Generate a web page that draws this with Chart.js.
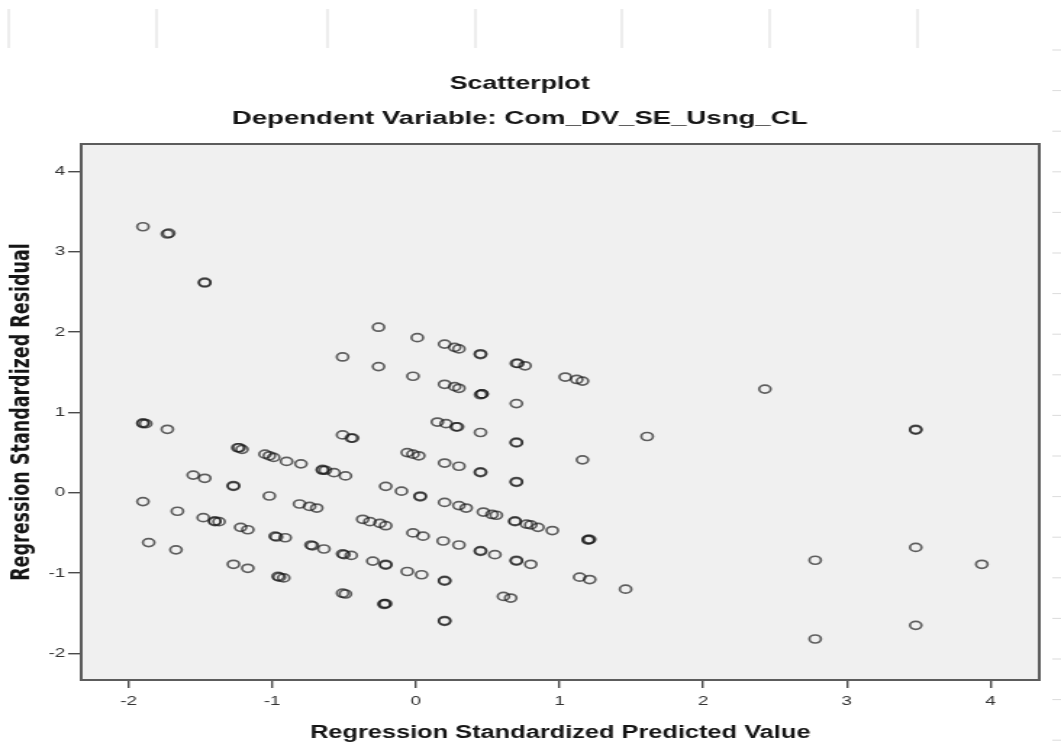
<!DOCTYPE html>
<html>
<head>
<meta charset="utf-8">
<title>Scatterplot</title>
<script src="https://cdn.jsdelivr.net/npm/chart.js@4/dist/chart.umd.min.js"></script>
<style>
  html, body { margin: 0; padding: 0; background: #fff; overflow: hidden; }
</style>
</head>
<body>
<!-- the source image is stretched sideways, so the canvas is drawn narrow and widened by css -->
<canvas id="scatter" width="732" height="746" style="width:1061px;height:746px"></canvas>
<script>
// Regression Standardized Predicted Value (x) and Regression Standardized Residual (y)
const predicted = [
  -1.90, -1.72, -1.73, -1.47, -1.47, -0.26, -0.51, -0.26, 0.01, 0.20,
  0.27, 0.30, 0.45, 0.45, 0.70, 0.71, 0.76, 1.04, 1.12, 1.16,
  -0.02, 0.20, 0.27, 0.30, 0.46, 0.46, 0.45, 0.70, 0.15, 0.21,
  0.28, 0.29, 0.45, 0.70, 0.70, 1.61, 2.43, 3.48, 3.48, -0.06,
  -0.02, 0.02, 0.20, 0.30, 0.45, 0.45, 0.70, 0.70, 1.16, -1.90,
  -1.90, -1.88, -1.73, -1.24, -1.23, -1.21, -1.05, -1.02, -0.99, -0.90,
  -0.80, -0.65, -0.65, -0.63, -0.57, -0.49, -0.51, -0.44, -0.45, -1.55,
  -1.47, -1.27, -1.27, -1.02, -0.21, -0.10, 0.03, 0.03, 0.20, 0.30,
  0.35, 0.47, 0.53, 0.56, 0.69, 0.69, 0.77, 0.80, 0.85, 0.95,
  1.20, 1.20, 1.21, -1.90, -1.66, -1.48, -1.40, -1.40, -1.37, -1.22,
  -1.17, -0.98, -0.97, -0.91, -0.81, -0.74, -0.69, -0.73, -0.72, -0.64,
  -0.51, -0.50, -0.45, -0.37, -0.32, -0.25, -0.21, -0.30, -0.21, -0.21,
  -0.02, 0.05, 0.19, 0.30, 0.45, 0.45, 0.55, 0.70, 0.70, 0.80,
  -0.06, 0.04, 0.20, 0.20, 1.14, 1.21, 1.46, 0.61, 0.66, -0.22,
  -0.22, -0.21, 0.20, 0.20, -1.86, -1.67, -1.27, -1.17, -0.96, -0.95,
  -0.92, -0.51, -0.49, 2.78, 3.48, 3.94, 2.78, 3.48
];
const residual = [
  3.31, 3.23, 3.22, 2.62, 2.61, 2.06, 1.69, 1.57, 1.93, 1.85,
  1.81, 1.79, 1.73, 1.72, 1.61, 1.61, 1.58, 1.44, 1.41, 1.39,
  1.45, 1.35, 1.32, 1.30, 1.23, 1.23, 1.22, 1.11, 0.88, 0.86,
  0.82, 0.82, 0.75, 0.63, 0.62, 0.70, 1.29, 0.79, 0.78, 0.50,
  0.48, 0.46, 0.37, 0.33, 0.25, 0.26, 0.14, 0.13, 0.41, 0.86,
  0.87, 0.86, 0.79, 0.56, 0.56, 0.54, 0.48, 0.46, 0.44, 0.39,
  0.36, 0.29, 0.28, 0.28, 0.25, 0.21, 0.72, 0.68, 0.68, 0.22,
  0.18, 0.08, 0.09, -0.04, 0.08, 0.02, -0.04, -0.05, -0.12, -0.16,
  -0.19, -0.24, -0.27, -0.28, -0.35, -0.36, -0.39, -0.40, -0.43, -0.47,
  -0.58, -0.59, -0.58, -0.11, -0.23, -0.31, -0.35, -0.36, -0.36, -0.43,
  -0.46, -0.54, -0.55, -0.56, -0.14, -0.17, -0.19, -0.65, -0.66, -0.70,
  -0.76, -0.77, -0.78, -0.33, -0.36, -0.38, -0.41, -0.85, -0.89, -0.90,
  -0.50, -0.54, -0.60, -0.65, -0.72, -0.73, -0.77, -0.84, -0.85, -0.89,
  -0.98, -1.02, -1.09, -1.10, -1.05, -1.08, -1.20, -1.29, -1.31, -1.38,
  -1.39, -1.38, -1.59, -1.60, -0.62, -0.71, -0.89, -0.94, -1.04, -1.05,
  -1.06, -1.25, -1.26, -0.84, -0.68, -0.89, -1.82, -1.65
];
const axisMin = -2.33;
const axisMax = 4.34;

const points = predicted.map((x, i) => ({ x: x, y: residual[i] }));

// SPSS style grey panel with a dark frame, plus the faint page marks of the screenshot
const frame = {
  id: 'frame',
  beforeDraw(chart) {
    const c = chart.ctx;
    const a = chart.chartArea;
    c.save();
    c.fillStyle = '#ffffff';
    c.fillRect(0, 0, chart.width, chart.height);
    c.strokeStyle = '#d2d2d2';
    c.lineWidth = 0.8;
    [6, 108, 226, 328, 429, 531, 633].forEach(x => {
      c.beginPath(); c.moveTo(x, 9); c.lineTo(x, 48); c.stroke();
    });
    for (let y = 50; y < chart.height; y += 40.6) {
      c.beginPath(); c.moveTo(726, y); c.lineTo(732, y); c.stroke();
    }
    c.fillStyle = '#f0f0f0';
    c.fillRect(a.left, a.top, a.right - a.left, a.bottom - a.top);
    c.restore();
  },
  beforeDatasetsDraw(chart) {
    const c = chart.ctx;
    const a = chart.chartArea;
    c.save();
    c.strokeStyle = '#5c5c5c';
    c.lineWidth = 2;
    c.strokeRect(a.left, a.top, a.right - a.left, a.bottom - a.top);
    c.restore();
  }
};

new Chart(document.getElementById('scatter'), {
  type: 'scatter',
  data: {
    datasets: [{
      data: points,
      pointRadius: 4,
      pointBorderWidth: 1.7,
      pointBorderColor: 'rgba(25, 25, 25, 0.68)',
      pointBackgroundColor: 'rgba(0, 0, 0, 0)'
    }]
  },
  options: {
    responsive: false,
    devicePixelRatio: 1,
    animation: false,
    events: [],
    layout: { padding: { left: 0, right: 15, top: 0, bottom: 0 } },
    plugins: {
      legend: { display: false },
      tooltip: { enabled: false },
      title: {
        display: true,
        text: 'Scatterplot',
        color: '#151515',
        font: { family: 'Liberation Sans', size: 18.5, weight: 'bold' },
        padding: { top: 73, bottom: 0 }
      },
      subtitle: {
        display: true,
        text: 'Dependent Variable: Com_DV_SE_Usng_CL',
        color: '#151515',
        font: { family: 'Liberation Sans', size: 19, weight: 'bold' },
        padding: { top: 12.4, bottom: 13.6 }
      }
    },
    scales: {
      x: {
        type: 'linear',
        min: axisMin,
        max: axisMax,
        afterFit: scale => { scale.height = 66; },
        border: { display: false },
        grid: { drawOnChartArea: false, drawTicks: true, tickLength: 8, color: '#4a4a4a', lineWidth: 1.4 },
        ticks: {
          stepSize: 1,
          includeBounds: false,
          padding: 6,
          color: '#333',
          font: { family: 'Liberation Sans', size: 13 }
        },
        title: {
          display: true,
          text: 'Regression Standardized Predicted Value',
          color: '#151515',
          font: { family: 'Liberation Sans', size: 17.5, weight: 'bold' },
          padding: { top: 0, bottom: 2.5 }
        }
      },
      y: {
        type: 'linear',
        min: axisMin,
        max: axisMax,
        afterFit: scale => { scale.width = 56; },
        border: { display: false },
        grid: { drawOnChartArea: false, drawTicks: true, tickLength: 9, color: '#4a4a4a', lineWidth: 1.4 },
        ticks: {
          stepSize: 1,
          includeBounds: false,
          padding: 2,
          color: '#333',
          font: { family: 'Liberation Sans', size: 13 }
        },
        title: {
          display: true,
          text: 'Regression Standardized Residual',
          color: '#151515',
          font: { family: 'DejaVu Sans', size: 17.5, weight: 'bold' },
          padding: { top: 4.7, bottom: 0 }
        }
      }
    }
  },
  plugins: [frame]
});
</script>
</body>
</html>
